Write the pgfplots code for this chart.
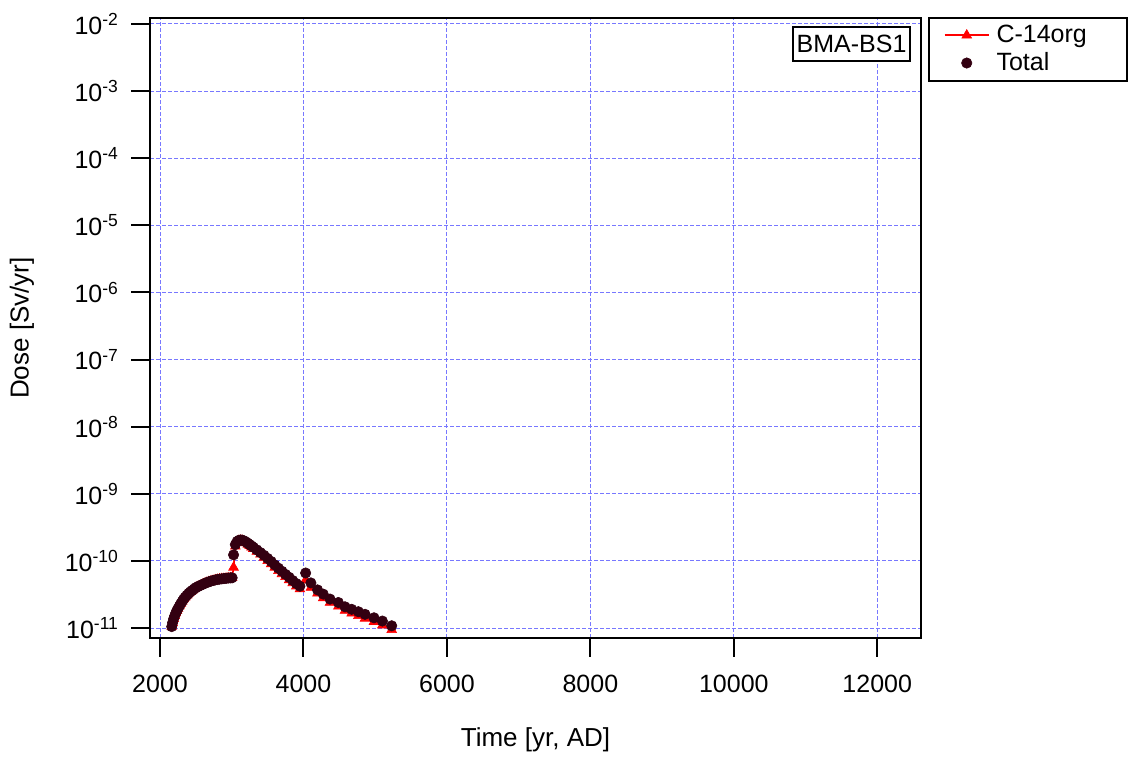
\documentclass[border=0pt]{standalone}
\usepackage{fontspec}
\setmainfont{Liberation Sans}
\usepackage{pgfplots}
\pgfplotsset{compat=1.18}
\usepackage{pgfplotstable}
\definecolor{totc}{RGB}{51,0,17}
\definecolor{gridc}{RGB}{120,120,255}

\pgfplotsset{
  redleg/.style={legend image code/.code={\draw[mark repeat=2,mark phase=2,##1] plot coordinates {(0pt,0pt)(11pt,0pt)(22pt,0pt)};}},
  dotleg/.style={legend image code/.code={\path[draw=none] (0pt,0pt) -- (22pt,0pt); \draw[##1] plot[only marks] coordinates {(11pt,0pt)};}},
}

\pgfplotstableread{
t d
2163 1.05e-11
2175 1.2e-11
2190 1.37e-11
2205 1.52e-11
2220 1.67e-11
2235 1.81e-11
2250 1.95e-11
2270 2.13e-11
2290 2.32e-11
2310 2.5e-11
2330 2.7e-11
2350 2.88e-11
2375 3.08e-11
2400 3.28e-11
2425 3.47e-11
2450 3.64e-11
2475 3.82e-11
2500 4.0e-11
2530 4.15e-11
2560 4.3e-11
2590 4.45e-11
2620 4.6e-11
2650 4.75e-11
2680 4.88e-11
2710 5.0e-11
2740 5.1e-11
2770 5.2e-11
2800 5.28e-11
2830 5.35e-11
2860 5.4e-11
2890 5.45e-11
2920 5.5e-11
2950 5.55e-11
2980 5.58e-11
3005 5.6e-11
3025 1.23e-10
3050 1.75e-10
3075 1.95e-10
3100 2.03e-10
3125 2.05e-10
3150 2.03e-10
3175 1.98e-10
3200 1.91e-10
3225 1.83e-10
3250 1.75e-10
3275 1.67e-10
3300 1.6e-10
3350 1.46e-10
3400 1.33e-10
3450 1.21e-10
3500 1.09e-10
3550 9.8e-11
3600 8.7e-11
3650 7.8e-11
3700 7.0e-11
3750 6.3e-11
3800 5.7e-11
3850 5.1e-11
3900 4.6e-11
3950 4.2e-11
4030 6.6e-11
4103 4.7e-11
4196 3.7e-11
4275 3.2e-11
4370 2.7e-11
4486 2.4e-11
4579 2.07e-11
4672 1.9e-11
4765 1.75e-11
4858 1.6e-11
4983 1.42e-11
5100 1.27e-11
5230 1.08e-11
}\total

\pgfplotstableread{
t d
2163 1.05e-11
2175 1.2e-11
2190 1.37e-11
2205 1.52e-11
2220 1.67e-11
2235 1.81e-11
2250 1.95e-11
2270 2.13e-11
2290 2.32e-11
2310 2.5e-11
2330 2.7e-11
2350 2.88e-11
2375 3.08e-11
2400 3.28e-11
2425 3.47e-11
2450 3.64e-11
2475 3.82e-11
2500 4.0e-11
2530 4.15e-11
2560 4.3e-11
2590 4.45e-11
2620 4.6e-11
2650 4.75e-11
2680 4.88e-11
2710 5.0e-11
2740 5.1e-11
2770 5.2e-11
2800 5.28e-11
2830 5.35e-11
2860 5.4e-11
2890 5.45e-11
2920 5.5e-11
2950 5.55e-11
2980 5.58e-11
3005 5.6e-11
3025 8.0e-11
3050 1.65e-10
3075 1.9e-10
3100 2.0e-10
3125 2.02e-10
3150 2.0e-10
3175 1.93e-10
3200 1.85e-10
3225 1.76e-10
3250 1.68e-10
3275 1.6e-10
3300 1.52e-10
3350 1.38e-10
3400 1.25e-10
3450 1.12e-10
3500 1.0e-10
3550 9.0e-11
3600 8.0e-11
3650 7.1e-11
3700 6.4e-11
3750 5.8e-11
3800 5.2e-11
3850 4.7e-11
3900 4.2e-11
3950 3.8e-11
4030 5.2e-11
4103 4.0e-11
4196 3.3e-11
4275 2.8e-11
4370 2.4e-11
4486 2.1e-11
4579 1.82e-11
4672 1.66e-11
4765 1.52e-11
4858 1.39e-11
4983 1.24e-11
5100 1.1e-11
5230 0.94e-11
}\corg

\begin{document}
\begin{tikzpicture}
\useasboundingbox (0,0) rectangle (565pt,379pt);
\begin{axis}[
  at={(75pt,60pt)}, anchor=south west,
  scale only axis, width=385.5pt, height=310pt,
  xmin=1860, xmax=12610,
  ymode=log, ymin=7.1e-12, ymax=1.228e-2,
  yminorticks=false,
  scaled x ticks=false,
  axis line style={line width=1pt},
  tick align=outside, major tick length=9.5pt,
  every tick/.style={line width=1pt, black},
  xtick pos=bottom, ytick pos=left,
  xtick={2000,4000,6000,8000,10000,12000},
  xticklabels={2000,4000,6000,8000,10000,12000},
  ytick={1e-11,1e-10,1e-9,1e-8,1e-7,1e-6,1e-5,1e-4,1e-3,1e-2},
  yticklabels={10\textsuperscript{-11},10\textsuperscript{-10},10\textsuperscript{-9},10\textsuperscript{-8},10\textsuperscript{-7},10\textsuperscript{-6},10\textsuperscript{-5},10\textsuperscript{-4},10\textsuperscript{-3},10\textsuperscript{-2}},
  tick label style={font=\fontsize{12.5}{15}\selectfont},
  xticklabel shift=5.5pt, yticklabel shift=2.5pt,
  grid=major,
  major grid style={gridc, dash pattern=on 2pt off 1pt, line width=0.5pt},
  label style={font=\fontsize{13}{15}\selectfont},
  xlabel={Time [yr, AD]},
  ylabel={Dose [Sv/yr]},
  xlabel style={at={(axis description cs:0.5,-0.1645)}, anchor=center},
  ylabel style={at={(axis description cs:-0.166,0.5)}, anchor=center},
  legend style={at={(axis description cs:1.009,1.0016)}, anchor=north west,
    draw=black, line width=1pt, font=\fontsize{12.5}{15}\selectfont,
    cells={anchor=west}, row sep=-0.5pt, inner xsep=7.5pt, inner ysep=1.5pt,
    /tikz/every odd column/.append style={column sep=1.5pt}},
]
\addplot[red, line width=0.8pt, mark=triangle*, mark size=2.8pt,
  mark options={solid, fill=red, draw=red, line width=0.3pt}, redleg]
  table[x=t,y=d] {\corg};
\addlegendentry{\makebox[55.5pt][l]{C-14org}}
\addplot[only marks, mark=*, mark size=2.6pt,
  mark options={draw=totc, fill=totc, line width=0.3pt}, dotleg]
  table[x=t,y=d] {\total};
\addlegendentry{\makebox[55.5pt][l]{Total}}
\node[draw=black, line width=1pt, fill=white, minimum width=58.5pt, minimum height=17pt, inner sep=0pt, font=\fontsize{12.5}{15}\selectfont] at (axis description cs:0.9099,0.958) {BMA-BS1};
\end{axis}
\end{tikzpicture}
\end{document}
